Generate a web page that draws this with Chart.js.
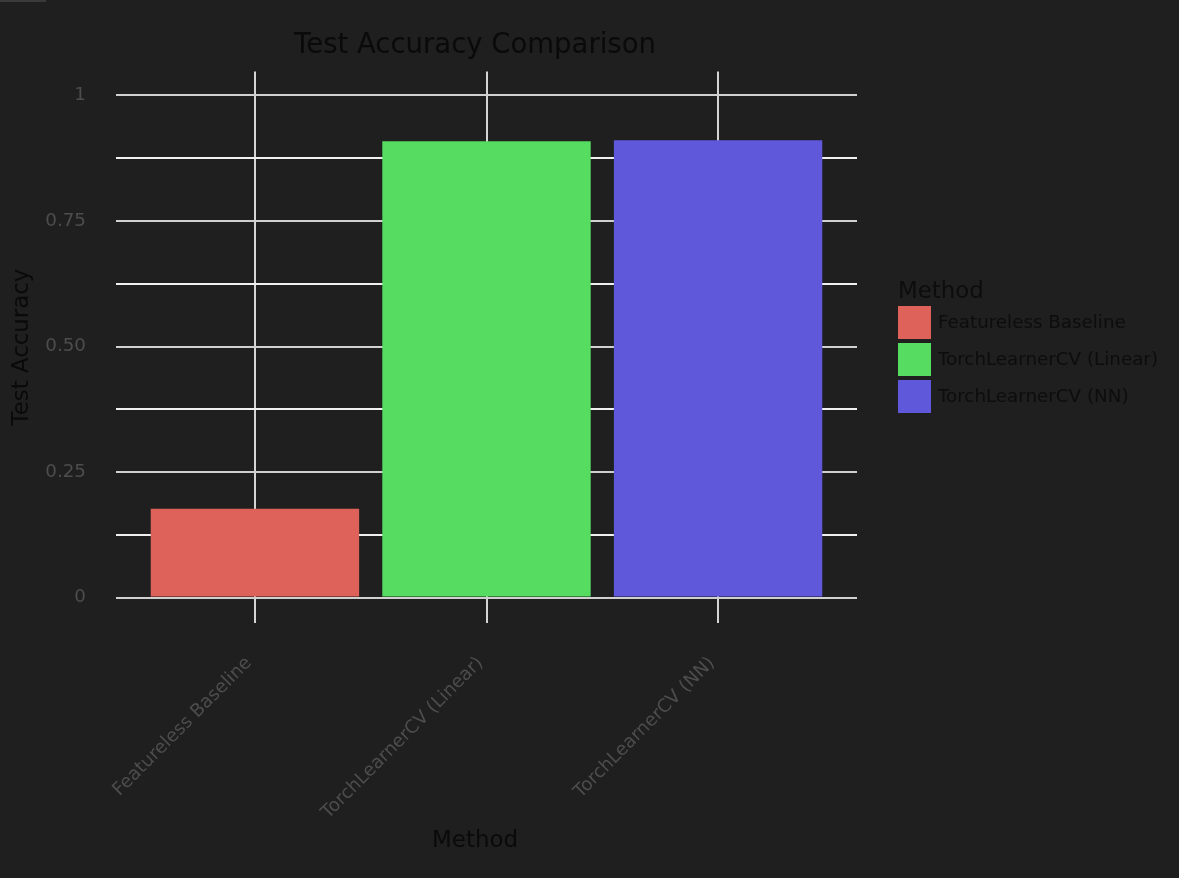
<!DOCTYPE html>
<html>
<head>
<meta charset="utf-8">
<script src="https://cdn.jsdelivr.net/npm/chart.js@4.4.1/dist/chart.umd.min.js"></script>
<style>
  html, body { margin: 0; padding: 0; background: #1f1f1f; }
  #wrap { position: relative; width: 1179px; height: 878px; }
  #strip { position: absolute; left: 0; top: 0; width: 46px; height: 2px; background: #3a3a3a; }
</style>
</head>
<body>
<div id="wrap">
  <canvas id="c" width="1179" height="878"></canvas>
  <div id="strip"></div>
</div>
<script>
const categories = ['Featureless Baseline', 'TorchLearnerCV (Linear)', 'TorchLearnerCV (NN)'];
const accuracy = [0.177, 0.909, 0.911];
const barColors = ['#DE6259', '#56DD61', '#5F58DB'];
const yTickValues = [0, 0.25, 0.5, 0.75, 1];
const yTickLabels = ['0', '0.25', '0.50', '0.75', '1'];
const yMinorValues = [0.125, 0.375, 0.625, 0.875];
const chartTitle = 'Test Accuracy Comparison';
const xTitle = 'Method';
const yTitle = 'Test Accuracy';
const legendTitle = 'Method';

const FONT = "'DejaVu Sans', sans-serif";

const legendPlugin = {
  id: 'ggLegend',
  afterDraw(chart) {
    const ctx = chart.ctx;
    ctx.save();
    ctx.fillStyle = '#0d0d0d';
    ctx.font = '22.9px ' + FONT;
    ctx.textAlign = 'left';
    ctx.textBaseline = 'alphabetic';
    ctx.fillText(legendTitle, 898, 298);
    const labels = chart.data.labels;
    const colors = chart.data.datasets[0].backgroundColor;
    ctx.font = '18.3px ' + FONT;
    ctx.textBaseline = 'middle';
    labels.forEach((lab, i) => {
      const y = 306 + i * 37;
      ctx.fillStyle = colors[i];
      ctx.fillRect(898, y, 33, 33);
      ctx.fillStyle = '#0d0d0d';
      ctx.fillText(lab, 938, y + 17);
    });
    ctx.restore();
  }
};

const yTicksAll = yTickValues.concat(yMinorValues).sort((a, b) => a - b);

new Chart(document.getElementById('c'), {
  type: 'bar',
  data: {
    labels: categories,
    datasets: [{
      data: accuracy.map((v, i) => ({ x: i, y: v })),
      backgroundColor: barColors,
      borderWidth: 0,
      barPercentage: 0.9,
      categoryPercentage: 1.0
    }]
  },
  options: {
    responsive: false,
    animation: false,
    layout: { padding: { left: 0, right: 229, top: 0, bottom: 0 } },
    plugins: {
      legend: { display: false },
      tooltip: { enabled: false },
      title: {
        display: true,
        text: chartTitle,
        fullSize: true,
        color: '#0a0a0a',
        font: { family: FONT, size: 27.5, weight: 'normal', lineHeight: 1.2 },
        padding: { top: 29.3, bottom: 9.2 }
      },
      subtitle: {
        display: true,
        position: 'bottom',
        text: xTitle,
        fullSize: true,
        color: '#0a0a0a',
        font: { family: FONT, size: 22.9, weight: 'normal', lineHeight: 1.2 },
        padding: { top: 5, bottom: 23 }
      }
    },
    scales: {
      x: {
        type: 'linear',
        min: -0.6,
        max: 2.6,
        offset: false,
        afterBuildTicks(scale) { scale.ticks = categories.map((c, i) => ({ value: i })); },
        afterFit(scale) { scale.height = 200; },
        grid: { offset: false, color: '#d4d4d4', lineWidth: 2, drawTicks: false, tickLength: 0 },
        border: { display: false },
        ticks: {
          autoSkip: false,
          minRotation: 45,
          maxRotation: 45,
          padding: 30,
          labelOffset: -6,
          color: '#4d4d4d',
          font: { family: FONT, size: 18.3 },
          callback: (v) => categories[v]
        }
      },
      y: {
        type: 'linear',
        min: -0.0497,
        max: 1.0477,
        afterBuildTicks(scale) { scale.ticks = yTicksAll.map(v => ({ value: v })); },
        afterFit(scale) { scale.width = 116; },
        grid: {
          color: (c) => (c.tick && yTickValues.includes(c.tick.value)) ? '#d0d0d0' : '#f0f0f0',
          lineWidth: 2,
          drawTicks: false,
          tickLength: 0
        },
        border: { display: false },
        ticks: {
          autoSkip: false,
          padding: 30,
          color: '#4d4d4d',
          font: { family: FONT, size: 18.3 },
          callback: (v) => {
            const k = yTickValues.indexOf(v);
            return k >= 0 ? yTickLabels[k] : '';
          }
        },
        title: {
          display: true,
          text: yTitle,
          color: '#0a0a0a',
          font: { family: FONT, size: 22.9, weight: 'normal', lineHeight: 1.2 },
          padding: { top: 8.3, bottom: 0 }
        }
      },
      yRight: {
        type: 'linear',
        position: 'right',
        display: true,
        afterFit(scale) { scale.width = 93; },
        grid: { display: false },
        border: { display: false },
        ticks: { display: false }
      }
    }
  },
  plugins: [legendPlugin]
});
</script>
</body>
</html>
